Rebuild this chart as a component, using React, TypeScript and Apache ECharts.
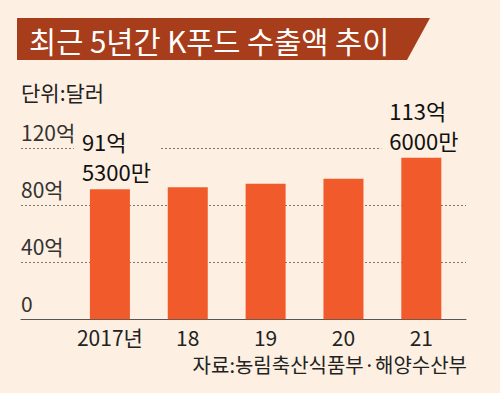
import React, { useEffect, useRef } from 'react';
import * as echarts from 'echarts';

const categories = ['2017년', '18', '19', '20', '21'];
const exportValues = [91.53, 92.8, 95.4, 98.8, 113.6];
const valueLabels = ['91억\n5300만', '', '', '', '113억\n6000만'];
const yTickValues = [0, 40, 80, 120];
const yTickLabels = ['0', '40억', '80억', '120억'];
const titleText = '최근 5년간 K푸드 수출액 추이';
const unitText = '단위:달러';
const sourceText = '자료:농림축산식품부·해양수산부';

const BG = '#fdefe1';
const FONT = '"Noto Sans CJK KR", "Noto Sans", sans-serif';

export default function App() {
  const ref = useRef<HTMLDivElement>(null);
  useEffect(() => {
    if (!ref.current) return;
    const chart = echarts.init(ref.current, undefined, { renderer: 'svg' });
    const labelOffsets: Record<number, number[]> = { 0: [-36, 0], 4: [-40, 0] };
    chart.setOption({
      animation: false,
      backgroundColor: BG,
      textStyle: { fontFamily: FONT },
      grid: { left: 21, right: 34, top: 148.7, bottom: 73.7, containLabel: false },
      xAxis: {
        type: 'value',
        min: -1.142,
        max: 4.574,
        axisLine: { show: true, onZero: false, lineStyle: { color: '#555', width: 1 } },
        axisTick: { show: false },
        splitLine: { show: false },
        axisLabel: {
          customValues: categories.map((_, i) => i),
          formatter: (v: number) => categories[Math.round(v)] ?? '',
          margin: 7,
          color: '#222',
          fontSize: 21,
          fontFamily: FONT,
        },
      },
      yAxis: {
        type: 'value',
        min: 0,
        max: 120,
        interval: 40,
        axisLine: { show: false },
        axisTick: { show: false },
        splitLine: { show: true, lineStyle: { color: '#777', type: [2, 2], width: 1 } },
        axisLabel: {
          inside: true,
          margin: 0,
          verticalAlign: 'bottom',
          padding: [0, 0, 6, 0],
          color: '#333',
          fontSize: 21,
          fontFamily: FONT,
          formatter: (v: number) => yTickLabels[yTickValues.indexOf(v)] ?? '',
        },
      },
      series: [
        {
          type: 'bar',
          barWidth: 40,
          itemStyle: { color: '#f15a2b' },
          data: exportValues.map((v, i) => ({
            value: [i, v],
            label: valueLabels[i]
              ? {
                  show: true,
                  position: 'top',
                  distance: 3,
                  formatter: valueLabels[i],
                  fontSize: 22,
                  lineHeight: 30,
                  color: '#111',
                  fontFamily: FONT,
                  align: 'left',
                  backgroundColor: BG,
                  padding: [0, 8, 0, 8],
                  offset: labelOffsets[i],
                }
              : { show: false },
          })),
        },
      ],
      graphic: [
        {
          type: 'polygon',
          shape: { points: [[17, 18], [430, 18], [407, 60], [17, 60]] },
          style: { fill: '#a83d1b' },
        },
        {
          type: 'text',
          x: 29,
          y: 40,
          style: { text: titleText, fill: '#ffffff', fontSize: 29.5, fontFamily: FONT, verticalAlign: 'middle' },
        },
        {
          type: 'text',
          x: 21,
          y: 92,
          style: { text: unitText, fill: '#222', fontSize: 21, fontFamily: FONT, verticalAlign: 'middle' },
        },
        {
          type: 'text',
          x: 467,
          y: 364,
          style: { text: sourceText, fill: '#222', fontSize: 20, fontFamily: FONT, align: 'right', verticalAlign: 'middle' },
        },
      ],
    });
    return () => chart.dispose();
  }, []);
  return <div ref={ref} style={{ position: 'fixed', left: 0, top: 0, width: 500, height: 393 }} />;
}
